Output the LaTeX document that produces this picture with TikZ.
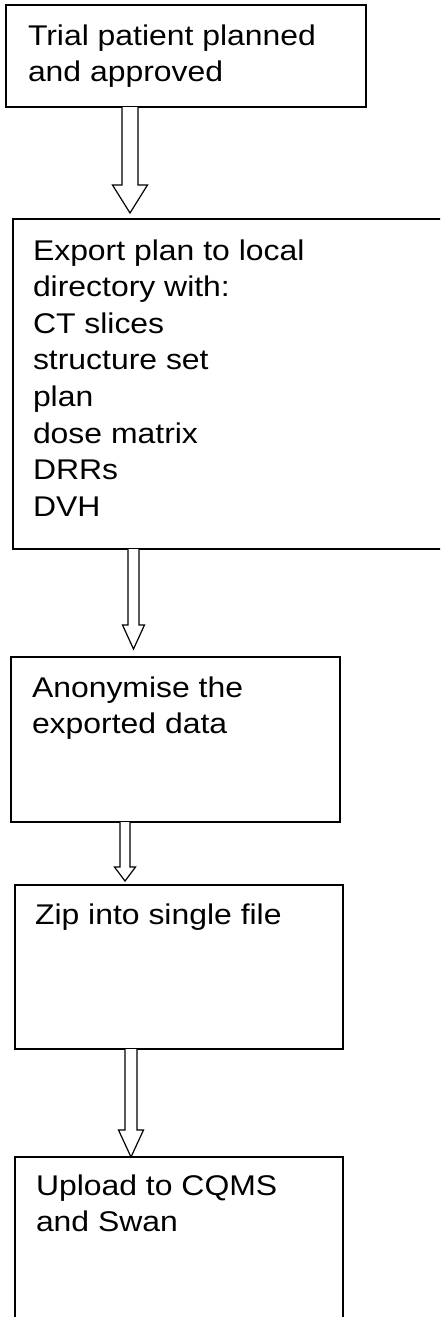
\documentclass[tikz,border=0pt]{standalone}
\usepackage{fontspec}
\setmainfont[FakeStretch=1.12]{Liberation Sans}
\usetikzlibrary{calc}
\tikzset{
  boxnode/.style={draw=black, line width=1.2pt, fill=white, inner sep=0pt, outer sep=0pt, anchor=north west},
  boxtext/.style={anchor=north west, inner sep=0pt, outer sep=0pt, align=left, font=\fontsize{28.5}{36.6}\selectfont},
  arrowline/.style={draw=black, line width=1.2pt, fill=white, line join=miter},
}
% #1 start, #2 tip, #3 shaft half-width, #4 head half-width, #5 head length
\newcommand\hollowarrow[5]{%
  \draw[arrowline] ($(#1)+(-#3,0)$) -- ($(#2)+(-#3,-#5)$) -- ($(#2)+(-#4,-#5)$) -- (#2)
    -- ($(#2)+(#4,-#5)$) -- ($(#2)+(#3,-#5)$) -- ($(#1)+(#3,0)$);
}
\newcommand\firstline{\rule{0pt}{25pt}}
\begin{document}
\begin{tikzpicture}[x=1pt,y=-1pt]
  \clip (0,0) rectangle (440,1317);
  \fill[white] (0,0) rectangle (440,1317);

  \node[boxnode, minimum width=360pt, minimum height=102pt] (b1) at (6,5) {};
  \node[boxnode, minimum width=447pt, minimum height=330pt] (b2) at (13,219) {};
  \node[boxnode, minimum width=329pt, minimum height=165pt] (b3) at (11,657) {};
  \node[boxnode, minimum width=328pt, minimum height=164pt] (b4) at (15,885) {};
  \node[boxnode, minimum width=328pt, minimum height=180pt] (b5) at (15,1157) {};

  \node[boxtext] (t1) at (28,20) {\firstline Trial patient planned\\and approved};
  \node[boxtext] (t2) at (33,235) {\firstline Export plan to local\\directory with:\\CT slices\\structure set\\plan\\dose matrix\\DRRs\\DVH};
  \node[boxtext] (t3) at (32,672) {\firstline Anonymise the\\exported data};
  \node[boxtext] (t4) at (35,899) {\firstline Zip into single file};
  \node[boxtext] (t5) at (36,1170) {\firstline Upload to CQMS\\and Swan};

  \coordinate (a1s) at ($(b1.south west)+(124,0)$);
  \coordinate (a1e) at ($(a1s |- b2.north)+(0,-6)$);
  \coordinate (a2s) at ($(b2.south west)+(120.5,0)$);
  \coordinate (a2e) at ($(a2s |- b3.north)+(0,-8)$);
  \coordinate (a3s) at ($(b3.south west)+(114,0)$);
  \coordinate (a3e) at ($(a3s |- b4.north)+(0,-4)$);
  \coordinate (a4s) at ($(b4.south west)+(116,0)$);
  \coordinate (a4e) at ($(a4s |- b5.north)+(0,0)$);

  \hollowarrow{a1s}{a1e}{8}{17.5}{28}
  \hollowarrow{a2s}{a2e}{5.5}{11}{24}
  \hollowarrow{a3s}{a3e}{5}{10.5}{14}
  \hollowarrow{a4s}{a4e}{6}{12.5}{27}
\end{tikzpicture}
\end{document}
